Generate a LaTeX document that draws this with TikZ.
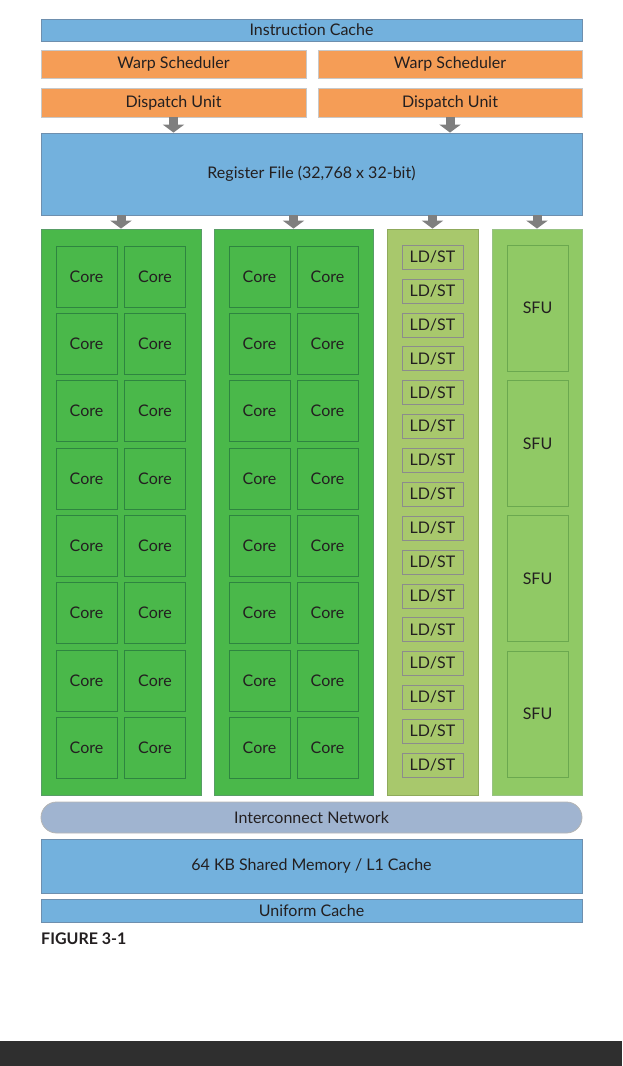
\documentclass[tikz,border=0pt]{standalone}
\usepackage{fontspec}
\setmainfont{Lato}
\usetikzlibrary{arrows.meta,positioning}

\definecolor{cacheblue}{HTML}{73B1DD}
\definecolor{cacheedge}{HTML}{6E8FAE}
\definecolor{warporange}{HTML}{F59D56}
\definecolor{warpedge}{HTML}{C8C8C8}
\definecolor{coregreen}{HTML}{4AB84A}
\definecolor{coreedge}{HTML}{2E8540}
\definecolor{ldstgreen}{HTML}{A8C86C}
\definecolor{ldstedge}{HTML}{8C8C8C}
\definecolor{sfugreen}{HTML}{90C965}
\definecolor{sfuedge}{HTML}{6BA84F}
\definecolor{netblue}{HTML}{A0B4D0}
\definecolor{netedge}{HTML}{B4B4B4}
\definecolor{arrowgray}{HTML}{7F7F7F}
\definecolor{barblack}{HTML}{2F2F2F}
\definecolor{textgray}{HTML}{231F20}

\tikzset{
	unit/.style={rectangle,draw,inner sep=0pt,text=textgray,font=\fontsize{16}{18}\selectfont},
	cachebox/.style={unit,fill=cacheblue,draw=cacheedge},
	warpbox/.style={unit,fill=warporange,draw=warpedge,minimum height=28pt},
	column/.style={rectangle,draw,inner sep=0pt,minimum height=566pt},
	corebox/.style={unit,fill=coregreen,draw=coreedge,minimum width=61pt,minimum height=61pt},
	ldstbox/.style={unit,fill=ldstgreen,draw=ldstedge,minimum width=61pt,minimum height=24pt},
	sfubox/.style={unit,fill=sfugreen,draw=sfuedge,minimum width=61pt,minimum height=126pt},
	feed/.style={draw=arrowgray,line width=9pt,-{Triangle[width=21pt,length=8pt]}},
}

\begin{document}
\begin{tikzpicture}[x=1pt,y=-1pt]
	\useasboundingbox (0,0) rectangle (622,1066);

	\begin{scope}[line width=0.8pt]
		\node [cachebox,minimum width=541pt,minimum height=22pt] (icache) at (311.5,30) {Instruction Cache};
		\node [warpbox,minimum width=265pt] (warpl) at (173.5,64) {Warp Scheduler};
		\node [warpbox,minimum width=264pt] (warpr) at (450,64) {Warp Scheduler};
		\node [warpbox,minimum width=265pt,minimum height=29pt] (displ) at (173.5,102.5) {Dispatch Unit};
		\node [warpbox,minimum width=264pt,minimum height=29pt] (dispr) at (450,102.5) {Dispatch Unit};
		\node [cachebox,minimum width=541pt,minimum height=82pt] (regfile) at (311.5,174) {Register File (32,768 x 32-bit)};

		\node [column,fill=coregreen,draw=coreedge!80,minimum width=160pt] (colA) at (121,512) {};
		\node [column,fill=coregreen,draw=coreedge!80,minimum width=159pt] (colB) at (293.5,512) {};
		\node [column,fill=ldstgreen,draw=ldstgreen!85!black,minimum width=91pt] (colC) at (432.5,512) {};
		\node [column,fill=sfugreen,draw=sfuedge!70,minimum width=90pt] (colD) at (537,512) {};

		\node [cachebox,fill=netblue,draw=netedge,rounded corners=15.5pt,minimum width=541pt,minimum height=31pt] (network) at (311.5,817.5) {Interconnect Network};
		\node [cachebox,minimum width=541pt,minimum height=54pt] (shmem) at (311.5,866) {64 KB Shared Memory / L1 Cache};
		\node [cachebox,minimum width=541pt,minimum height=23pt] (ucache) at (311.5,910.5) {Uniform Cache};
	\end{scope}

	% cores, load/store units and special function units
	\foreach \r in {0,...,7} {
		\node [corebox] (coreA\r a) at (86.5,276.5+67.3*\r) {Core};
		\node [corebox] (coreA\r b) at (155,276.5+67.3*\r) {Core};
		\node [corebox] (coreB\r a) at (259.5,276.5+67.3*\r) {Core};
		\node [corebox] (coreB\r b) at (327.5,276.5+67.3*\r) {Core};
	}
	\foreach \r in {0,...,15}
		\node [ldstbox] (ldst\r) at (432.5,257+33.87*\r) {LD/ST};
	\foreach \r in {0,...,3}
		\node [sfubox] (sfu\r) at (537.5,308+135.3*\r) {SFU};

	\draw [feed] (displ.south) -- (displ.south |- regfile.north);
	\draw [feed] (dispr.south) -- (dispr.south |- regfile.north);
	\foreach \c in {colA,colB,colC,colD}
		\draw [feed] (regfile.south -| \c) -- (\c.north);

	\node [anchor=base west,inner sep=0pt,text=textgray,font=\fontsize{16}{18}\selectfont\bfseries] (caption) at (41,944) {FIGURE 3-1};

	\fill [barblack] (0,1041) rectangle (622,1066);
\end{tikzpicture}
\end{document}
